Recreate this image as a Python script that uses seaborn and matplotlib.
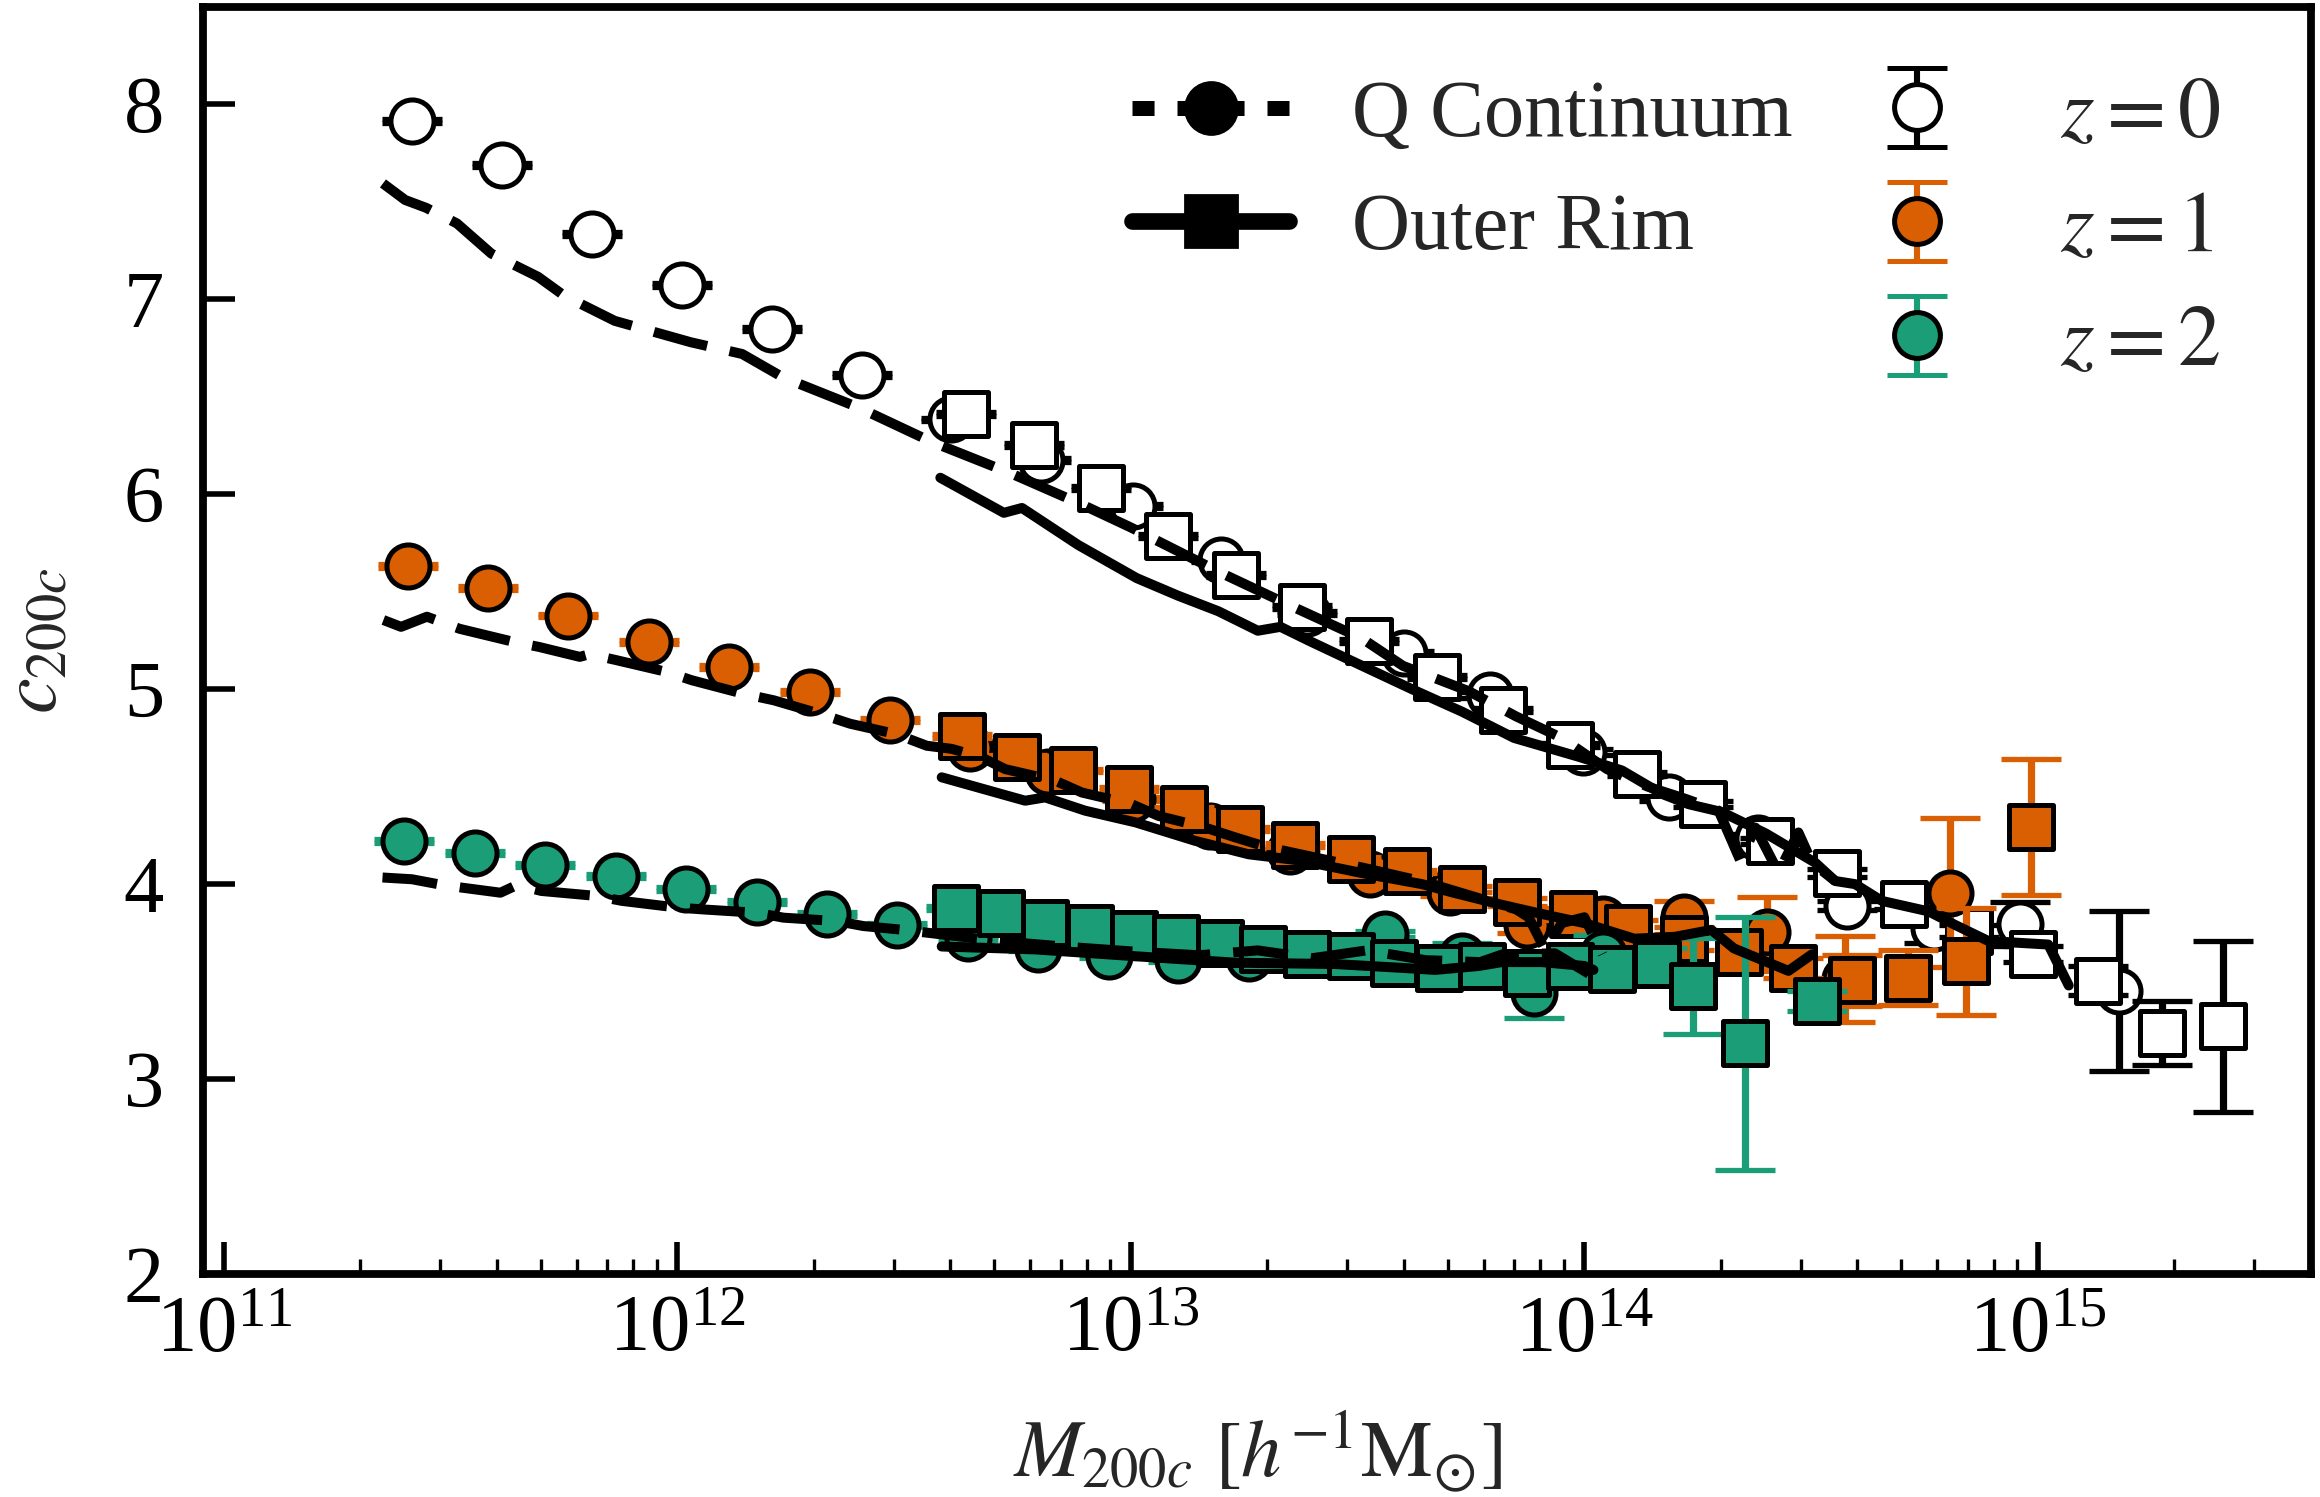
import numpy as np
import pandas as pd
import matplotlib
matplotlib.use("Agg")
import matplotlib.pyplot as plt
import seaborn as sns
from matplotlib.lines import Line2D
from matplotlib.container import ErrorbarContainer
from matplotlib.legend_handler import HandlerErrorbar
from matplotlib.ticker import LogLocator, MultipleLocator, NullFormatter

# ---------------- data (log10 M200c, c200c, error) ----------------
qc0_logm = [11.416, 11.614, 11.812, 12.010, 12.209, 12.407, 12.604, 12.803, 13.004, 13.199,
            13.388, 13.602, 13.793, 13.996, 14.187, 14.383, 14.579, 14.770, 14.960, 15.179]
qc0_c = [7.914, 7.688, 7.336, 7.075, 6.847, 6.612, 6.384, 6.178, 5.941, 5.663,
         5.391, 5.185, 4.972, 4.680, 4.445, 4.239, 3.890, 3.776, 3.795, 3.450]
qc0_err = [0.01, 0.01, 0.01, 0.01, 0.01, 0.01, 0.01, 0.01, 0.01, 0.01,
           0.01, 0.01, 0.015, 0.015, 0.02, 0.02, 0.025, 0.08, 0.115, 0.41]

or0_logm = [12.637, 12.786, 12.935, 13.082, 13.231, 13.377, 13.525, 13.675, 13.821, 13.968,
            14.116, 14.262, 14.409, 14.556, 14.704, 14.847, 14.990, 15.132, 15.273, 15.408]
or0_c = [6.410, 6.255, 6.032, 5.788, 5.586, 5.423, 5.248, 5.063, 4.892, 4.712,
         4.567, 4.413, 4.222, 4.059, 3.900, 3.759, 3.642, 3.505, 3.236, 3.270]
or0_err = [0.01, 0.01, 0.01, 0.01, 0.01, 0.01, 0.01, 0.01, 0.01, 0.01,
           0.01, 0.015, 0.015, 0.02, 0.03, 0.03, 0.04, 0.075, 0.163, 0.44]

qc1_logm = [11.407, 11.582, 11.760, 11.937, 12.114, 12.292, 12.470, 12.646, 12.818, 13.002,
            13.174, 13.350, 13.527, 13.704, 13.873, 14.040, 14.219, 14.402, 14.575, 14.807]
qc1_c = [5.634, 5.520, 5.378, 5.240, 5.115, 4.986, 4.840, 4.700, 4.574, 4.437,
         4.300, 4.170, 4.050, 3.958, 3.790, 3.820, 3.829, 3.756, 3.515, 3.957]
qc1_err = [0.01, 0.01, 0.01, 0.01, 0.01, 0.01, 0.01, 0.01, 0.01, 0.01,
           0.01, 0.01, 0.015, 0.02, 0.04, 0.05, 0.085, 0.18, 0.22, 0.38]

or1_logm = [12.627, 12.750, 12.872, 12.995, 13.118, 13.241, 13.362, 13.485, 13.609, 13.730,
            13.851, 13.974, 14.097, 14.219, 14.340, 14.461, 14.590, 14.713, 14.841, 14.985]
or1_c = [4.758, 4.651, 4.583, 4.489, 4.385, 4.283, 4.200, 4.128, 4.065, 3.977,
         3.910, 3.848, 3.774, 3.720, 3.654, 3.570, 3.506, 3.520, 3.605, 4.294]
or1_err = [0.01, 0.01, 0.01, 0.01, 0.01, 0.01, 0.01, 0.01, 0.01, 0.015,
           0.02, 0.03, 0.04, 0.06, 0.10, 0.05, 0.13, 0.14, 0.275, 0.35]

qc2_logm = [11.398, 11.553, 11.709, 11.864, 12.019, 12.175, 12.331, 12.484, 12.642, 12.796,
            12.951, 13.105, 13.260, 13.415, 13.561, 13.730, 13.888, 14.040]
qc2_c = [4.222, 4.162, 4.100, 4.040, 3.977, 3.910, 3.848, 3.790, 3.725, 3.665,
         3.630, 3.613, 3.620, 3.640, 3.742, 3.630, 3.440, 3.640]
qc2_err = [0.01, 0.01, 0.01, 0.01, 0.01, 0.01, 0.01, 0.01, 0.01, 0.01,
           0.01, 0.01, 0.01, 0.01, 0.015, 0.07, 0.125, 0.10]

or2_logm = [12.615, 12.713, 12.811, 12.910, 13.006, 13.099, 13.197, 13.292, 13.388, 13.485,
            13.580, 13.680, 13.774, 13.873, 13.969, 14.060, 14.160, 14.240, 14.355, 14.513]
or2_c = [3.879, 3.853, 3.800, 3.776, 3.742, 3.725, 3.700, 3.665, 3.640, 3.630,
         3.596, 3.570, 3.580, 3.543, 3.580, 3.562, 3.590, 3.478, 3.183, 3.400]
or2_err = [0.01, 0.01, 0.01, 0.01, 0.01, 0.01, 0.01, 0.01, 0.01, 0.01,
           0.01, 0.01, 0.01, 0.02, 0.03, 0.05, 0.08, 0.245, 0.65, 0.05]

# black curves (dashed: Q Continuum, solid: Outer Rim)
qc0_line_logm = [11.351, 11.400, 11.446, 11.514, 11.590, 11.693, 11.750, 11.862, 12.030, 12.143,
                 12.233, 12.400, 12.560, 12.733, 12.890, 13.000, 13.205, 13.360, 13.510, 13.600,
                 13.745, 13.850, 13.950, 14.050, 14.140, 14.220, 14.296, 14.344, 14.377, 14.428,
                 14.472, 14.502, 14.553]
qc0_line_c = [7.595, 7.510, 7.470, 7.390, 7.235, 7.116, 7.020, 6.890, 6.780, 6.720,
              6.600, 6.445, 6.270, 6.110, 5.950, 5.830, 5.590, 5.420, 5.260, 5.120,
              4.990, 4.860, 4.750, 4.590, 4.500, 4.440, 4.377, 4.120, 4.290, 4.060,
              4.265, 4.110, 4.016]

or0_line_logm = [12.580, 12.720, 12.760, 12.884, 13.013, 13.104, 13.193, 13.280, 13.330, 13.396,
                 13.510, 13.620, 13.730, 13.845, 13.991, 14.083, 14.171, 14.230, 14.303, 14.400,
                 14.509, 14.553, 14.597, 14.656, 14.759, 14.818, 14.891, 15.023, 15.068]
or0_line_c = [6.085, 5.905, 5.930, 5.740, 5.570, 5.480, 5.400, 5.300, 5.320, 5.245,
              5.120, 5.000, 4.885, 4.750, 4.651, 4.583, 4.463, 4.410, 4.370, 4.260,
              4.110, 4.016, 4.000, 3.914, 3.860, 3.790, 3.708, 3.690, 3.480]

qc1_line_logm = [11.352, 11.391, 11.448, 11.520, 11.639, 11.695, 11.785, 11.807, 11.864, 11.976,
                 12.032, 12.145, 12.213, 12.314, 12.381, 12.482, 12.550, 12.605, 12.671, 12.723,
                 12.833, 12.892, 13.002, 13.061, 13.164, 13.230, 13.300, 13.400, 13.520, 13.650,
                 13.750, 13.850, 13.877, 13.914, 13.950, 14.000, 14.040]
qc1_line_c = [5.355, 5.320, 5.372, 5.310, 5.243, 5.217, 5.166, 5.180, 5.150, 5.089,
              5.046, 4.977, 4.943, 4.874, 4.823, 4.770, 4.710, 4.694, 4.650, 4.590,
              4.531, 4.470, 4.410, 4.350, 4.290, 4.240, 4.190, 4.140, 4.080, 4.010,
              3.940, 3.870, 3.830, 3.660, 3.800, 3.830, 3.640]

or1_line_logm = [12.583, 12.767, 12.811, 12.899, 13.010, 13.142, 13.260, 13.377, 13.524, 13.642,
                 13.708, 13.818, 13.906, 14.000, 14.110, 14.200, 14.280, 14.330, 14.450, 14.502]
or1_line_c = [4.548, 4.428, 4.445, 4.377, 4.317, 4.222, 4.153, 4.120, 4.050, 4.000,
              3.958, 3.894, 3.847, 3.800, 3.720, 3.730, 3.765, 3.670, 3.555, 3.640]

qc2_line_logm = [11.350, 11.415, 11.472, 11.525, 11.610, 11.647, 11.700, 11.819, 11.878, 11.999,
                 12.058, 12.175, 12.234, 12.352, 12.410, 12.500, 12.583, 12.708, 12.850, 13.000,
                 13.150, 13.280, 13.400, 13.520, 13.650, 13.770, 13.820, 13.935, 14.010]
qc2_line_c = [4.034, 4.025, 4.000, 3.982, 3.956, 3.996, 3.965, 3.940, 3.914, 3.880,
              3.870, 3.853, 3.828, 3.810, 3.785, 3.765, 3.742, 3.708, 3.680, 3.655,
              3.635, 3.660, 3.620, 3.660, 3.610, 3.600, 3.640, 3.645, 3.540]

or2_line_logm = [12.583, 12.790, 13.010, 13.230, 13.450, 13.600, 13.671, 13.767, 13.818, 13.906,
                 14.000, 14.020]
or2_line_c = [3.680, 3.665, 3.630, 3.597, 3.590, 3.570, 3.560, 3.580, 3.600, 3.600,
              3.580, 3.560]

legend_sims = ["Q Continuum", "Outer Rim"]
legend_z = ["$z = 0$", "$z = 1$", "$z = 2$"]

# ---------------- style ----------------
sns.set_theme(style="ticks")
plt.rcParams["font.family"] = ["Liberation Serif", "DejaVu Serif"]
plt.rcParams["mathtext.fontset"] = "stix"
plt.rcParams["font.size"] = 29
plt.rcParams["axes.linewidth"] = 2.8
plt.rcParams["axes.edgecolor"] = "black"

pal = sns.color_palette("Dark2")
col_z = ["black", pal[1], pal[0]]
face_z = ["white", pal[1], pal[0]]

fig, ax = plt.subplots(figsize=(11.6, 7.485), dpi=200)
fig.subplots_adjust(left=0.0875, right=0.9961, top=0.9953, bottom=0.1490)
ax.set_xscale("log")

MS = 15.5
groups = [
    (qc0_logm, qc0_c, qc0_err, "o", 0),
    (or0_logm, or0_c, or0_err, "s", 0),
    (qc1_logm, qc1_c, qc1_err, "o", 1),
    (or1_logm, or1_c, or1_err, "s", 1),
    (qc2_logm, qc2_c, qc2_err, "o", 2),
    (or2_logm, or2_c, or2_err, "s", 2),
]
for k, (lm, cc, ee, mk, zi) in enumerate(groups):
    m = 10 ** np.array(lm)
    ax.errorbar(m, cc, yerr=ee, fmt="none", ecolor=col_z[zi], elinewidth=2.6,
                capsize=10.8, capthick=1.9, zorder=3 + 2 * k)
    sns.scatterplot(x=m, y=cc, marker=mk, s=MS ** 2, color=face_z[zi], edgecolor="black",
                    linewidth=1.8, zorder=4 + 2 * k, ax=ax, legend=False)

# lines
rows = []
for name, sim, lm, cc in [
    ("qc0", "Q Continuum", qc0_line_logm, qc0_line_c),
    ("or0", "Outer Rim", or0_line_logm, or0_line_c),
    ("qc1", "Q Continuum", qc1_line_logm, qc1_line_c),
    ("or1", "Outer Rim", or1_line_logm, or1_line_c),
    ("qc2", "Q Continuum", qc2_line_logm, qc2_line_c),
    ("or2", "Outer Rim", or2_line_logm, or2_line_c),
]:
    for a, b in zip(lm, cc):
        rows.append({"M": 10 ** a, "c": b, "line": name, "sim": sim})
lines_df = pd.DataFrame(rows)
sns.lineplot(data=lines_df, x="M", y="c", units="line", style="sim",
             dashes={"Q Continuum": (5.5, 2.3), "Outer Rim": ""},
             color="black", lw=3.6, estimator=None, sort=False, legend=False,
             ax=ax, zorder=20)

# axes
ax.set_xlim(9e10, 4e15)
ax.set_ylim(2, 8.5)
ax.yaxis.set_major_locator(MultipleLocator(1))
ax.xaxis.set_major_locator(LogLocator(base=10, numticks=20))
ax.xaxis.set_minor_locator(LogLocator(base=10, subs=np.arange(2, 10), numticks=40))
ax.xaxis.set_minor_formatter(NullFormatter())
ax.tick_params(which="major", direction="in", length=11.5, width=2.0,
               top=False, right=False, colors="black", labelsize=29)
ax.tick_params(which="minor", direction="in", length=5.5, width=1.2,
               top=False, right=False, colors="black")
ax.tick_params(axis="y", which="minor", left=False)
ax.tick_params(axis="y", pad=14)
ax.tick_params(axis="x", pad=8)
for s in ax.spines.values():
    s.set_linewidth(2.8)
    s.set_color("black")
    s.set_visible(True)

ax.set_xlabel(r"$M_{200c}\ [h^{-1}\mathrm{M}_{\odot}]$", fontsize=29, labelpad=14)
ax.set_ylabel(r"$c_{200c}$", fontsize=29, labelpad=18)

# legends
qc_h = Line2D([], [], color="black", lw=5.4, ls=(0, (1.47, 1.53)), marker="o",
              ms=18.7, mfc="black", mec="black", dash_capstyle="butt")
or_h = Line2D([], [], color="black", lw=6.0, ls="-", marker="s",
              ms=18.4, mfc="black", mec="black")
leg1 = ax.legend([qc_h, or_h], legend_sims, loc="center left",
                 bbox_to_anchor=(0.4407, 0.8690), frameon=False, handlelength=1.95,
                 handletextpad=0.78, labelspacing=0.49, borderpad=0, borderaxespad=0,
                 fontsize=29)
ax.add_artist(leg1)

eb_handles = []
for zi in range(3):
    eb = ax.errorbar([np.nan], [np.nan], yerr=[0.1], fmt="o", ms=16.5, mfc=face_z[zi],
                     mec="black", mew=1.8, ecolor=col_z[zi], elinewidth=2.2,
                     capsize=10.8, capthick=1.9)
    eb_handles.append(eb)
leg2 = ax.legend(eb_handles, legend_z, loc="center left",
                 bbox_to_anchor=(0.776, 0.8235), frameon=False, handlelength=1.82,
                 handletextpad=0.75, labelspacing=0.40, borderpad=0, borderaxespad=0,
                 fontsize=31, handler_map={ErrorbarContainer: HandlerErrorbar(xerr_size=0.46)})

fig.savefig("out.png", dpi=200)
